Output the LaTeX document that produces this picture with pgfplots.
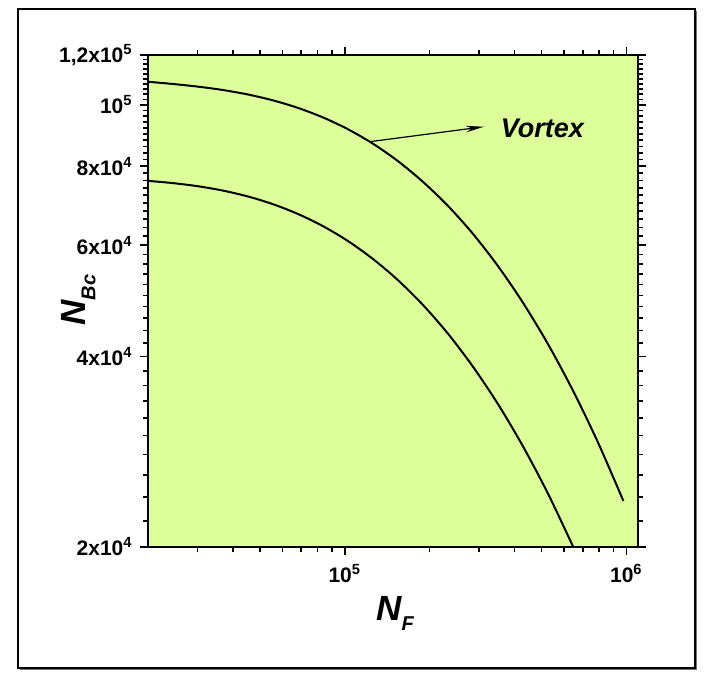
\documentclass[border=0pt]{standalone}
\usepackage{fontspec}
\setmainfont{Liberation Sans}
\usepackage{pgfplots}
\pgfplotsset{compat=1.18}
\usetikzlibrary{arrows.meta}
\definecolor{bg}{RGB}{221,255,153}
\begin{document}
\begin{tikzpicture}
\path[use as bounding box] (0,0) rectangle (353pt,337pt);
\fill[black!55] (10.2pt,1.8pt) rectangle (348.7pt,331.3pt);
\draw[line width=0.6pt, fill=white] (9pt,3pt) rectangle (347.5pt,332.5pt);
\begin{axis}[
 at={(74pt,63.5pt)}, anchor=south west,
 width=245pt, height=246pt, scale only axis,
 xmode=log, ymode=log,
 xmin=20000, xmax=1.1e6, ymin=20000, ymax=120000,
 axis background/.style={fill=bg},
 axis line style={line width=1pt},
 tick align=outside,
 major tick length=4.2pt, minor tick length=2.4pt,
 every tick/.style={black, line width=0.8pt},
 xtick={100000,1000000},
 xticklabels={10\textsuperscript{5},10\textsuperscript{6}},
 minor xtick={30000,40000,50000,60000,70000,80000,90000,200000,300000,400000,500000,600000,700000,800000,900000},
 ytick={20000,40000,60000,80000,100000,120000},
 yticklabels={2x10\textsuperscript{4},4x10\textsuperscript{4},6x10\textsuperscript{4},8x10\textsuperscript{4},10\textsuperscript{5},{1,2x10\textsuperscript{5}}},
 minor ytick={22000,24000,26000,28000,30000,32000,34000,36000,38000,42000,44000,46000,48000,50000,52000,54000,56000,58000,62000,64000,66000,68000,70000,72000,74000,76000,78000,82000,84000,86000,88000,90000,92000,94000,96000,98000,102000,104000,106000,108000,110000,112000,114000,116000,118000},
 ticklabel style={font=\bfseries\fontsize{10.5}{12}\selectfont},
 xticklabel style={yshift=-1pt},
 clip mode=individual,
]
\addplot[black, line width=1pt, smooth] coordinates {
(20000,108840) (24430,107980) (29990,106940) (36810,105630) (45160,103930)
(55430,101740) (68030,98990) (83490,95610) (102490,91580) (125780,86880)
(154380,81530) (189480,75610) (232550,69250) (285410,62530) (350300,55590)
(429930,48630) (527680,41810) (647650,35280) (794900,29190) (975720,23650)
};
\addplot[black, line width=1pt, smooth] coordinates {
(20000,75880) (24430,75270) (29990,74410) (36810,73250) (45160,71700)
(55430,69720) (68030,67280) (83490,64360) (102490,60960) (125780,57100)
(154380,52850) (189480,48280) (232550,43480) (285410,38550) (350300,33630)
(429930,28820) (527680,24250) (647650,20000)
};
\draw[line width=0.6pt, -{Stealth[length=9pt,width=3.2pt]}] (axis cs:122700,87500) -- (axis cs:312000,92400);
\node[anchor=west, font=\bfseries\itshape\fontsize{13.5}{15}\selectfont] at (axis cs:338000,91800) {Vortex};
\node[font=\bfseries\itshape\fontsize{17.5}{20}\selectfont] at (rel axis cs:0.504,-0.135) {N\raisebox{-5pt}{\fontsize{10}{12}\selectfont F}};
\node[rotate=90, font=\bfseries\itshape\fontsize{17.5}{20}\selectfont] at (rel axis cs:-0.142,0.502) {N\raisebox{-5pt}{\fontsize{10}{12}\selectfont Bc}};
\end{axis}
\end{tikzpicture}
\end{document}
